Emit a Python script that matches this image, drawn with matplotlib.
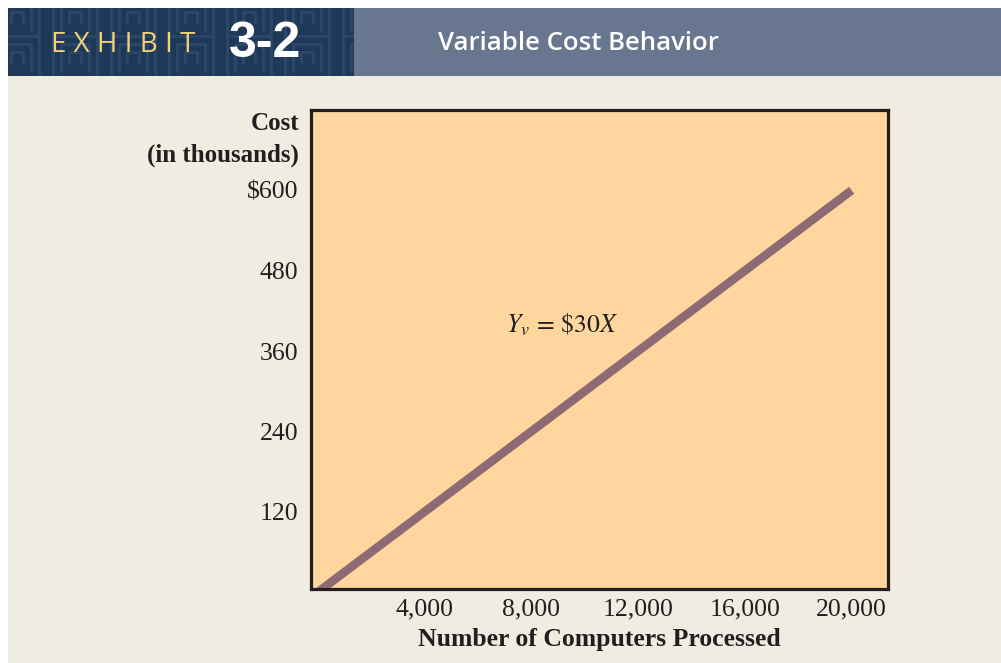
import matplotlib
matplotlib.use("Agg")
import matplotlib.pyplot as plt
from matplotlib.patches import Rectangle

# ---- data ----
units = [0, 20000]                 # number of computers processed
cost = [0, 600]                    # cost in thousands ($30 per unit)
x_ticks = [4000, 8000, 12000, 16000, 20000]
x_tick_labels = ["4,000", "8,000", "12,000", "16,000", "20,000"]
y_ticks = [120, 240, 360, 480, 600]
y_tick_labels = ["120", "240", "360", "480", "$600"]

BG = "#EFECE2"
FACE = "#FFD79E"
LINE = "#8E6B74"
NAVY = "#1F3858"
SLATE = "#68768F"
INK = "#231F20"

W, H = 1001, 663
fig = plt.figure(figsize=(W / 100, H / 100), dpi=100)
fig.patch.set_facecolor("white")

def fx(px):
    return px / W

def fy(py):
    return 1 - py / H

# beige background
fig.add_artist(Rectangle((fx(8), 0), 1 - fx(8), fy(76), transform=fig.transFigure,
                         facecolor=BG, edgecolor="none", zorder=0))

# header panels
hdr = fig.add_axes([fx(8), fy(76), fx(354 - 8), fy(8) - fy(76)])
hdr.set_xlim(0, 346)
hdr.set_ylim(68, 0)
hdr.axis("off")
hdr.add_patch(Rectangle((0, 0), 346, 68, facecolor=NAVY, edgecolor="none"))
# subtle maze-like texture
mc = "#2A4668"
for ox in range(-20, 360, 58):
    for oy in (-10, 30):
        for k, s in enumerate((22, 14, 6)):
            xs = [ox + 29 - s, ox + 29 - s, ox + 29 + s, ox + 29 + s]
            ys = [oy + 20 + s, oy + 20 - s, oy + 20 - s, oy + 20 + s]
            hdr.plot(xs, ys, color=mc, lw=2.2, solid_capstyle="butt")

fig.add_artist(Rectangle((fx(354), fy(76)), 1 - fx(354), fy(8) - fy(76),
                         transform=fig.transFigure, facecolor=SLATE, edgecolor="none", zorder=1))

fig.text(fx(51), fy(45), "E X H I B I T", color="#F2D276", fontsize=20, family="Open Sans",
         ha="left", va="center")
fig.text(fx(229), fy(44), "3-2", color="white", fontsize=36, family="Liberation Sans",
         fontweight="bold", ha="left", va="center")
fig.text(fx(438), fy(44), "Variable Cost Behavior", color="white", fontsize=18.5,
         family="Open Sans", fontweight="semibold", ha="left", va="center", zorder=2)

# main axes
ax = fig.add_axes([fx(311), fy(589), fx(888) - fx(311), fy(110) - fy(589)])
ax.set_facecolor(FACE)
ax.plot(units, cost, color=LINE, lw=6.2, solid_capstyle="butt")
ax.set_xlim(-262, 21364)
ax.set_ylim(4.5, 720)
for sp in ax.spines.values():
    sp.set_linewidth(2.3)
    sp.set_color(INK)
ax.set_xticks(x_ticks)
ax.set_xticklabels(x_tick_labels)
ax.set_yticks(y_ticks)
ax.set_yticklabels(y_tick_labels)
ax.tick_params(length=0, labelsize=18.5, colors=INK)
ax.tick_params(axis="x", pad=7)
ax.tick_params(axis="y", pad=9)
for lab in ax.get_xticklabels() + ax.get_yticklabels():
    lab.set_family("Liberation Serif")

ax.set_xlabel("Number of Computers Processed", family="Liberation Serif",
              fontweight="bold", fontsize=18.5, color=INK, labelpad=5)

fig.text(fx(299), fy(124), "Cost", family="Liberation Serif", fontweight="bold",
         fontsize=18, ha="right", va="center", color=INK)
fig.text(fx(299), fy(155), "(in thousands)", family="Liberation Serif", fontweight="bold",
         fontsize=18, ha="right", va="center", color=INK)

plt.rcParams["mathtext.fontset"] = "stix"
ax.text(9150, 399, r"$Y_v\,=\,\$30X$", fontsize=18.5, ha="center", va="center",
        color=INK)

fig.savefig("out.png", dpi=100, facecolor=fig.get_facecolor())
